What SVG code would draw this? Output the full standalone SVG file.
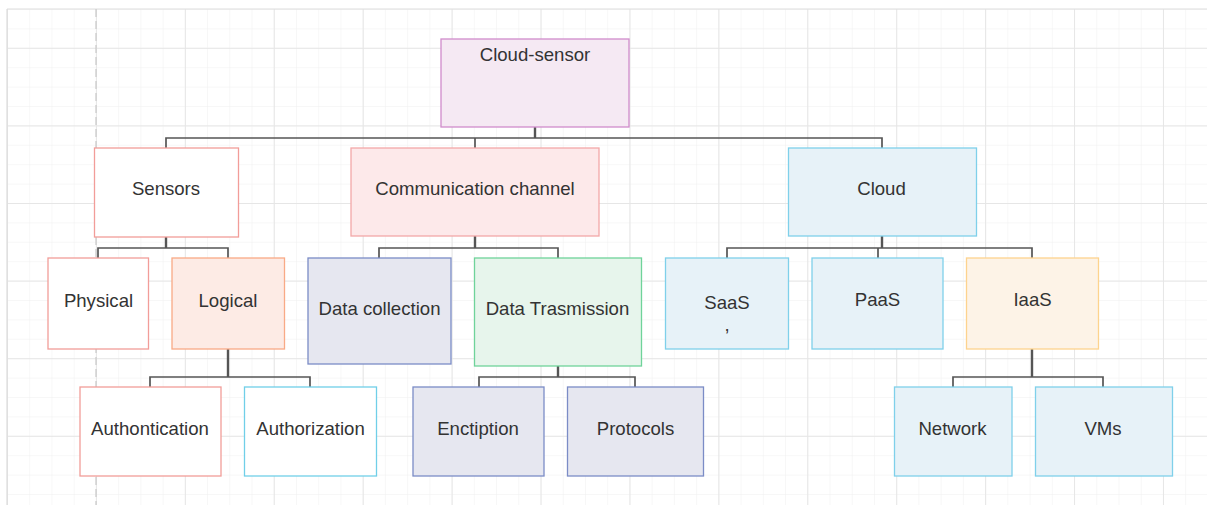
<svg xmlns="http://www.w3.org/2000/svg" width="1207" height="505" viewBox="0 0 1207 505">
  <style>
    .box { stroke-width: 1.3; }
    .lbl { font-family: "Liberation Sans", Arial, sans-serif; font-size: 18.6px; fill: #333333; text-anchor: middle; }
    .wire { fill: none; stroke: #555555; stroke-width: 1.7; }
    .stem { fill: none; stroke: #555555; stroke-width: 2.4; }
    .rose { fill: #ffffff; stroke: #f29d99; }
    .peach { fill: #fdebe5; stroke: #f9aa86; }
    .blush { fill: #fde9ea; stroke: #f3a8a8; }
    .slate { fill: #e6e7f0; stroke: #7b8cc6; }
    .mint { fill: #e7f5ec; stroke: #6fd39a; }
    .sky { fill: #e7f2f8; stroke: #7fd0ea; }
    .skyline { fill: #ffffff; stroke: #70cfe8; }
    .sand { fill: #fdf3e7; stroke: #fdd38e; }
    .orchid { fill: #f5e9f3; stroke: #d08ccb; }
  </style>
  <defs>
    <pattern id="gridMinor" patternUnits="userSpaceOnUse" x="7" y="9" width="22.23" height="19.4">
      <path d="M0 0 V19.4 M0 0 H22.23" fill="none" stroke="#efefef" stroke-width="1"/>
    </pattern>
    <pattern id="gridMajor" patternUnits="userSpaceOnUse" x="7" y="47.8" width="88.92" height="77.6">
      <path d="M0 0 V77.6 M0 0 H88.92" fill="none" stroke="#e6e6e6" stroke-width="2"/>
    </pattern>
  </defs>

  <!-- canvas -->
  <rect x="0" y="0" width="1207" height="505" fill="#ffffff"/>
  <rect x="7" y="9" width="1200" height="496" fill="url(#gridMinor)"/>
  <rect x="7" y="9" width="1200" height="496" fill="url(#gridMajor)"/>
  <path d="M7 9 H1207 M7 9 V505" fill="none" stroke="#dddddd" stroke-width="1.2"/>
  <path d="M96 9 V505" fill="none" stroke="#c9c9c9" stroke-width="1.2" stroke-dasharray="8 4"/>

  <!-- connectors -->
  <g id="connectors">
    <path class="stem" d="M535 127 V138"/>
    <path class="wire" d="M166 148 V138 H882 V148 M475 138 V148"/>
    <path class="stem" d="M166 237 V248"/>
    <path class="wire" d="M98 258 V248 H228 V258"/>
    <path class="stem" d="M475 236 V248"/>
    <path class="wire" d="M379 258 V248 H558 V258"/>
    <path class="stem" d="M882 236 V248"/>
    <path class="wire" d="M727 258 V248 H1032 V258 M878 248 V258"/>
    <path class="stem" d="M228 349 V377"/>
    <path class="wire" d="M150 387 V377 H310 V387"/>
    <path class="stem" d="M558 366 V377"/>
    <path class="wire" d="M479 387 V377 H635 V387"/>
    <path class="stem" d="M1032 349 V377"/>
    <path class="wire" d="M953 387 V377 H1103 V387"/>
  </g>

  <!-- nodes -->
  <g id="cloud-sensor">
    <rect class="box orchid" x="441" y="39" width="188" height="88"/>
    <text class="lbl" x="535" y="60.5">Cloud-sensor</text>
  </g>
  <g id="sensors">
    <rect class="box rose" x="94.5" y="148" width="144" height="89"/>
    <text class="lbl" x="166" y="195">Sensors</text>
  </g>
  <g id="communication-channel">
    <rect class="box blush" x="351" y="148" width="248" height="88"/>
    <text class="lbl" x="475" y="194.5">Communication channel</text>
  </g>
  <g id="cloud">
    <rect class="box sky" x="788.5" y="148" width="188" height="88"/>
    <text class="lbl" x="881.5" y="195">Cloud</text>
  </g>
  <g id="physical">
    <rect class="box rose" x="48" y="258" width="100.5" height="91"/>
    <text class="lbl" x="98.5" y="306.5">Physical</text>
  </g>
  <g id="logical">
    <rect class="box peach" x="172" y="258" width="112.5" height="91"/>
    <text class="lbl" x="228" y="306.5">Logical</text>
  </g>
  <g id="data-collection">
    <rect class="box slate" x="308" y="258" width="143" height="106"/>
    <text class="lbl" x="379.5" y="315">Data collection</text>
  </g>
  <g id="data-trasmission">
    <rect class="box mint" x="474.5" y="258" width="167" height="108"/>
    <text class="lbl" x="557.5" y="315">Data Trasmission</text>
  </g>
  <g id="saas">
    <rect class="box sky" x="665.5" y="258" width="123" height="91"/>
    <text class="lbl" x="727" y="308.5">SaaS</text>
    <text class="lbl" x="727" y="331" font-size="11">,</text>
  </g>
  <g id="paas">
    <rect class="box sky" x="812" y="258" width="131" height="91"/>
    <text class="lbl" x="877.5" y="305.5">PaaS</text>
  </g>
  <g id="iaas">
    <rect class="box sand" x="966.5" y="258" width="132" height="91"/>
    <text class="lbl" x="1032.5" y="305.5">IaaS</text>
  </g>
  <g id="authontication">
    <rect class="box rose" x="80" y="387" width="141" height="89"/>
    <text class="lbl" x="150" y="435">Authontication</text>
  </g>
  <g id="authorization">
    <rect class="box skyline" x="244.5" y="387" width="132" height="89"/>
    <text class="lbl" x="310.5" y="435">Authorization</text>
  </g>
  <g id="enctiption">
    <rect class="box slate" x="413" y="387" width="131" height="89"/>
    <text class="lbl" x="478" y="435">Enctiption</text>
  </g>
  <g id="protocols">
    <rect class="box slate" x="567.5" y="387" width="136" height="89"/>
    <text class="lbl" x="635.5" y="435">Protocols</text>
  </g>
  <g id="network">
    <rect class="box sky" x="894.5" y="387" width="117.5" height="89"/>
    <text class="lbl" x="952.5" y="434.5">Network</text>
  </g>
  <g id="vms">
    <rect class="box sky" x="1035.5" y="387" width="137" height="89"/>
    <text class="lbl" x="1103" y="434.5">VMs</text>
  </g>
</svg>
